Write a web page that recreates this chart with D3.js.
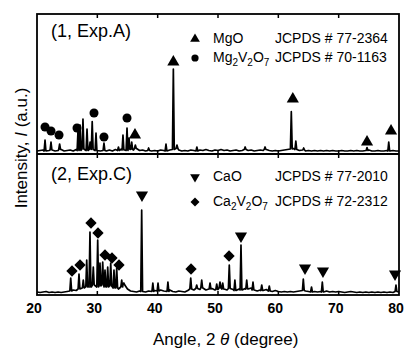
<!DOCTYPE html>
<html><head><meta charset="utf-8">
<script src="https://cdn.jsdelivr.net/npm/d3@7"></script>
<style>body{margin:0;background:#fff}svg{display:block}text{font-family:"Liberation Sans",Arial,sans-serif;fill:#000}</style>
</head><body><svg id="c" width="406" height="349"></svg>
<script>
// ---------- data ----------
const angleStart = 20, angleStep = 0.5;   // background sampling of the scans
const xTicks = [20, 30, 40, 50, 60, 70, 80];

// Exp.A background (a.u.), every 0.5 deg from 20 to 80
const bgA = [5,10,15,5,10,15,5,10,20,5, 10,15,5,20,10,25,15,10,20,15,
             10,5,10,5,15,5,20,10,25,15, 10,20,15,30,10,15,5,10,5,10,
             5,15,10,5,15,20,30,15,5,10, 5,15,10,5,15,10,20,10,5,15,
             10,20,10,15,5,10,15,5,10,20, 10,15,5,10,15,10,20,10,5,10,
             5,10,15,20,25,30,20,10,15,5, 10,5,10,5,10,5,10,5,10,5,
             5,10,5,5,10,5,10,5,5,10, 15,5,5,10,5,5,10,5,10,5, 5];
// Exp.A peaks: [angle, intensity]
const peaksA = [[21.33,115],[22.32,95],[23.75,75],[26.8,215],[27.13,265],[27.62,325],[28.29,225],
  [28.8,95],[29.15,300],[29.78,185],[31.1,85],[33.5,45],[34.25,165],[34.92,235],[35.25,135],
  [35.7,95],[36.3,65],[38.5,35],[41.38,75],[42.6,825],[43.2,65],[46.5,45],[54.5,45],[57.8,45],
  [62.15,398],[62.9,105],[64.2,35],[74.7,40],[78.3,95]];

// Exp.C background (a.u.)
const bgC = [10,5,10,15,5,10,5,10,5,10, 15,20,30,25,40,50,60,70,60,80,
             60,70,80,60,70,60,50,40,60,80, 40,20,15,10,20,15,10,20,15,25,
             20,30,20,15,30,15,10,20,15,10, 25,40,30,45,35,50,30,40,45,30,
             35,50,40,30,45,35,25,40,30,45, 40,50,30,20,30,25,35,20,15,25,
             15,10,15,10,15,10,15,20,25,20, 15,10,15,10,15,10,20,10,15,10,
             15,10,5,10,15,10,5,10,5,10, 5,10,5,10,5,10,5,10,5,15, 10];
// Exp.C peaks
const peaksC = [[25.59,150],[26.96,190],[27.67,130],[28.24,330],[28.78,610],[29.33,260],[30.06,530],
  [30.44,300],[30.89,310],[31.27,230],[31.72,260],[32.22,300],[32.76,230],[33.21,250],[34.04,130],
  [34.4,100],[37.35,830],[39.2,100],[40.06,100],[41.7,110],[45.48,150],[46.47,80],[47.3,130],
  [48.68,100],[49.79,90],[50.33,110],[50.78,100],[51.87,280],[52.8,130],[53.81,480],[54.76,130],
  [55.8,110],[57.25,80],[58.5,70],[64.14,140],[65.5,60],[67.29,110],[79.5,80]];

// phase markers [angle, intensity]
const mgoMarks = [[42.6,895],[36.24,165],[62.4,525],[74.7,95],[78.68,205]];
const mg2v2o7Marks = [[21.33,245],[22.32,205],[23.65,165],[26.63,235],[29.45,385],[31.1,145],[34.92,335]];
const caoMarks = [[37.4,980],[53.81,570],[64.42,250],[67.4,220],[79.34,190]];
const ca2v2o7Marks = [[25.8,220],[27.13,280],[28.95,700],[30.11,600],[31.27,380],[32.43,350],[33.59,280],[45.53,240],[51.83,370]];

const panelLabels = ["(1, Exp.A)", "(2, Exp.C)"];
const legendA = [{name:["Mg","O"], sub:[], card:"JCPDS # 77-2364", sym:"triUp"},
                 {name:["Mg","V","O"], sub:["2","2","7"], card:"JCPDS # 70-1163", sym:"circle"}];
const legendC = [{name:["Ca","O"], sub:[], card:"JCPDS # 77-2010", sym:"triDown"},
                 {name:["Ca","V","O"], sub:["2","2","7"], card:"JCPDS # 72-2312", sym:"diamond"}];

// ---------- layout ----------
const L = 37, R = 399, T = 14, MID = 154, B = 295;
const svg = d3.select("#c");
const x = d3.scaleLinear().domain([20, 80]).range([L, R]);
const yA = d3.scaleLinear().domain([0, 1400]).range([151.5, 11.5]);
const yC = d3.scaleLinear().domain([0, 1390]).range([293, 154]);

function buildPattern(bg, peaks, w) {
  const pts = bg.map((v, i) => [angleStart + i * angleStep, v]);
  const keep = pts.filter(p => !peaks.some(pk => Math.abs(p[0] - pk[0]) < w));
  peaks.forEach(pk => {
    const b = bg[Math.round((pk[0] - angleStart) / angleStep)];
    keep.push([pk[0] - w, b], [pk[0], pk[1]], [pk[0] + w, b]);
  });
  return keep.sort((a, b) => a[0] - b[0]);
}

const defs = svg.append("defs");
defs.append("clipPath").attr("id", "cA").append("rect").attr("x", L).attr("y", T).attr("width", R - L).attr("height", MID - T);
defs.append("clipPath").attr("id", "cC").append("rect").attr("x", L).attr("y", MID).attr("width", R - L).attr("height", B - MID);

function drawPanel(bg, peaks, y, clip) {
  const line = d3.line().x(d => x(d[0])).y(d => y(d[1]));
  svg.append("path").attr("clip-path", `url(#${clip})`)
    .attr("d", line(buildPattern(bg, peaks, 0.15)))
    .attr("fill", "none").attr("stroke", "#000").attr("stroke-width", 1.7).attr("stroke-linejoin", "round");
}
drawPanel(bgA, peaksA, yA, "cA");
drawPanel(bgC, peaksC, yC, "cC");

const symPath = {
  triUp: d3.symbol().type(d3.symbolTriangle).size(64)(),
  triDown: d3.symbol().type(d3.symbolTriangle).size(64)(),
  circle: d3.symbol().type(d3.symbolCircle).size(64)(),
  diamond: d3.symbol().type(d3.symbolSquare).size(64)()
};
const symRot = {triUp: 0, triDown: 180, circle: 0, diamond: 45};
function marks(data, y, sym, scale = 1) {
  svg.append("g").selectAll("path").data(data).join("path")
    .attr("d", symPath[sym])
    .attr("transform", d => `translate(${x(d[0])},${y(d[1])}) rotate(${symRot[sym]}) scale(${scale})`)
    .attr("fill", "#000");
}
marks(mgoMarks, yA, "triUp");
marks(mg2v2o7Marks, yA, "circle");
marks(caoMarks, yC, "triDown");
marks(ca2v2o7Marks, yC, "diamond");

// frame
svg.append("rect").attr("x", L).attr("y", T).attr("width", R - L).attr("height", B - T)
  .attr("fill", "none").attr("stroke", "#000").attr("stroke-width", 1.8);
svg.append("line").attr("x1", L).attr("x2", R).attr("y1", MID).attr("y2", MID)
  .attr("stroke", "#000").attr("stroke-width", 1.8);

// ticks (inward) on every horizontal edge
const inner = xTicks.slice(1, -1);
[[T, 4], [MID, -4], [MID, 4], [B, -4]].forEach(([yy, len]) => {
  svg.append("g").selectAll("line").data(inner).join("line")
    .attr("x1", d => x(d)).attr("x2", d => x(d)).attr("y1", yy).attr("y2", yy + len)
    .attr("stroke", "#000").attr("stroke-width", 1.5);
});
svg.append("g").selectAll("text").data(xTicks).join("text")
  .attr("x", d => x(d) - 3).attr("y", 313).attr("text-anchor", "middle")
  .attr("font-size", 14).attr("font-weight", "bold").text(d => d);

// axis titles
const xt = svg.append("text").attr("x", 153).attr("y", 345).attr("font-size", 17);
xt.append("tspan").text("Angle, 2 ");
xt.append("tspan").attr("font-style", "italic").text("θ");
xt.append("tspan").text(" (degree)");
const yt = svg.append("text").attr("transform", "translate(27,148) rotate(-90)").attr("text-anchor", "middle").attr("font-size", 17);
yt.append("tspan").text("Intensity, ");
yt.append("tspan").attr("font-style", "italic").text("I");
yt.append("tspan").text(" (a.u.)");

// panel labels
svg.append("text").attr("x", 51).attr("y", 37).attr("font-size", 18).text(panelLabels[0]);
svg.append("text").attr("x", 51).attr("y", 180).attr("font-size", 18).text(panelLabels[1]);

// legends
function legend(items, ys) {
  items.forEach((it, i) => {
    const cy = ys[i];
    svg.append("path").attr("d", symPath[it.sym])
      .attr("transform", `translate(195,${cy}) rotate(${symRot[it.sym]}) scale(0.8)`).attr("fill", "#000");
    const t = svg.append("text").attr("x", 213).attr("y", cy + 4).attr("font-size", 14);
    it.name.forEach((n, k) => {
      t.append("tspan").attr("dy", k > 0 && it.sub.length ? -4 : null).text(n);
      if (it.sub[k]) t.append("tspan").attr("font-size", 10).attr("dy", 4).text(it.sub[k]);
    });
    svg.append("text").attr("x", 275).attr("y", cy + 4).attr("font-size", 14).text(it.card);
  });
}
legend(legendA, [39, 58]);
legend(legendC, [177, 202]);
</script></body></html>
